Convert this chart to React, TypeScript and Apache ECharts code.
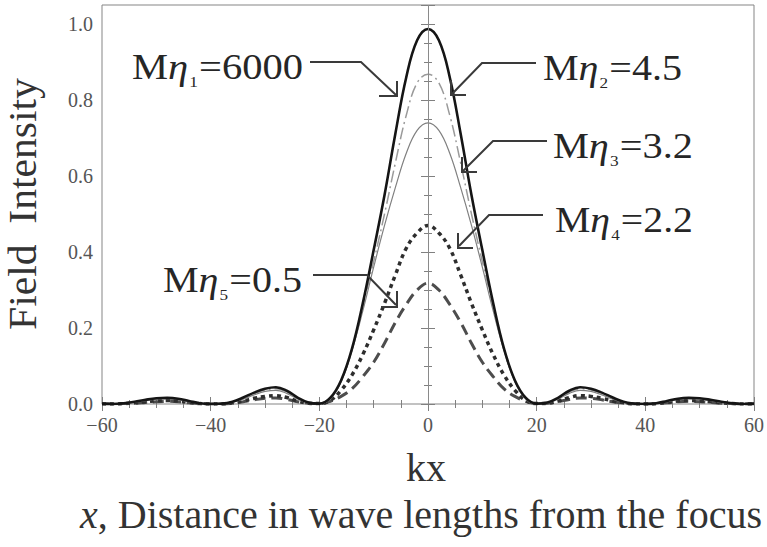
import React, { useEffect, useRef } from "react";
import * as echarts from "echarts";

// kx positions (wave numbers from the focus)
const KX = [
  -60, -58, -56, -54, -52, -50, -48, -46, -44, -42, -40, -38, -36, -34, -32, -30, -28, -26, -24, -22,
  -20, -18, -16, -14, -12, -10, -8, -6, -4, -2, 0, 2, 4, 6, 8, 10, 12, 14, 16, 18, 20,
  22, 24, 26, 28, 30, 32, 34, 36, 38, 40, 42, 44, 46, 48, 50, 52, 54, 56, 58, 60,
];

// Mη1 = 6000 (solid black)
const ETA1 = [
  0.001, 0, 0.002, 0.006, 0.011, 0.015, 0.016, 0.014, 0.008, 0.002, 0, 0.001, 0.006, 0.017, 0.03, 0.04, 0.044, 0.035, 0.017, 0.004,
  0.001, 0.016, 0.062, 0.145, 0.265, 0.405, 0.55, 0.712, 0.86, 0.957, 0.987, 0.957, 0.86, 0.712, 0.55, 0.405, 0.265, 0.145, 0.062, 0.016, 0.001,
  0.004, 0.017, 0.035, 0.044, 0.04, 0.03, 0.017, 0.006, 0.001, 0, 0.002, 0.008, 0.014, 0.016, 0.015, 0.011, 0.006, 0.002, 0, 0.001,
];
// Mη2 = 4.5 (dash-dot grey)
const ETA2 = [
  0.001, 0, 0.002, 0.005, 0.01, 0.014, 0.015, 0.013, 0.007, 0.002, 0, 0.001, 0.005, 0.015, 0.027, 0.037, 0.04, 0.031, 0.015, 0.004,
  0.001, 0.014, 0.06, 0.143, 0.255, 0.375, 0.5, 0.635, 0.76, 0.845, 0.868, 0.845, 0.76, 0.635, 0.5, 0.375, 0.255, 0.143, 0.06, 0.014, 0.001,
  0.004, 0.015, 0.031, 0.04, 0.037, 0.027, 0.015, 0.005, 0.001, 0, 0.002, 0.007, 0.013, 0.015, 0.014, 0.01, 0.005, 0.002, 0, 0.001,
];
// Mη3 = 3.2 (thin grey)
const ETA3 = [
  0.001, 0, 0.001, 0.005, 0.009, 0.013, 0.014, 0.012, 0.006, 0.002, 0, 0.001, 0.005, 0.013, 0.024, 0.033, 0.036, 0.028, 0.013, 0.003,
  0.001, 0.013, 0.058, 0.14, 0.245, 0.36, 0.47, 0.57, 0.66, 0.72, 0.74, 0.72, 0.66, 0.57, 0.47, 0.36, 0.245, 0.14, 0.058, 0.013, 0.001,
  0.003, 0.013, 0.028, 0.036, 0.033, 0.024, 0.013, 0.005, 0.001, 0, 0.002, 0.006, 0.012, 0.014, 0.013, 0.009, 0.005, 0.001, 0, 0.001,
];
// Mη4 = 2.2 (dotted)
const ETA4 = [
  0, 0, 0.001, 0.003, 0.006, 0.008, 0.009, 0.008, 0.004, 0.001, 0, 0, 0.003, 0.008, 0.015, 0.02, 0.022, 0.017, 0.008, 0.002,
  0.001, 0.009, 0.036, 0.076, 0.13, 0.195, 0.265, 0.34, 0.41, 0.45, 0.47, 0.45, 0.41, 0.34, 0.265, 0.195, 0.13, 0.076, 0.036, 0.009, 0.001,
  0.002, 0.008, 0.017, 0.022, 0.02, 0.015, 0.008, 0.003, 0, 0, 0.001, 0.004, 0.008, 0.009, 0.008, 0.006, 0.003, 0.001, 0, 0,
];
// Mη5 = 0.5 (dashed)
const ETA5 = [
  0, 0, 0.001, 0.002, 0.004, 0.006, 0.007, 0.006, 0.003, 0.001, 0, 0, 0.002, 0.006, 0.011, 0.015, 0.016, 0.012, 0.006, 0.002,
  0.001, 0.007, 0.02, 0.04, 0.072, 0.11, 0.16, 0.215, 0.262, 0.3, 0.318, 0.3, 0.262, 0.215, 0.16, 0.11, 0.072, 0.04, 0.02, 0.007, 0.001,
  0.002, 0.006, 0.012, 0.016, 0.015, 0.011, 0.006, 0.002, 0, 0, 0.001, 0.003, 0.006, 0.007, 0.006, 0.004, 0.002, 0.001, 0, 0,
];

const SUBSCRIPTS = ["1", "2", "3", "4", "5"];
const M_ETA_VALUES = ["6000", "4.5", "3.2", "2.2", "0.5"];

const SERIF = "Liberation Serif";
const INK = "#262626";

function pairs(ys: number[]) {
  return KX.map((x, i) => [x, ys[i]]);
}

let measureCtx: CanvasRenderingContext2D | null = null;
function textWidth(text: string, font: string) {
  if (!measureCtx) measureCtx = document.createElement("canvas").getContext("2d");
  measureCtx!.font = font;
  return measureCtx!.measureText(text).width;
}

function txt(text: string, x: number, y: number, fontSize: number, italic = false, fill = INK) {
  return {
    type: "text",
    x,
    y,
    z: 100,
    style: {
      text,
      fontFamily: SERIF,
      fontSize,
      fontStyle: italic ? "italic" : "normal",
      fill,
      align: "left",
      verticalAlign: "middle",
      textAlign: "left",
      textVerticalAlign: "middle",
    },
  };
}

// label "Mη_i=value": left edge, baseline, right edge of the label in pixels
function label(i: number, left: number, baseline: number, right: number) {
  const fs = 35;
  const sfs = 15;
  const wM = textWidth("M", `${fs}px ${SERIF}`);
  const wE = textWidth("η", `italic ${fs}px ${SERIF}`);
  const wS = textWidth(SUBSCRIPTS[i], `${sfs}px ${SERIF}`);
  const rest = "=" + M_ETA_VALUES[i];
  const wV = textWidth(rest, `${fs}px ${SERIF}`);
  const total = wM + wE + 1 + wS + 1 + wV;
  const sx = (right - left) / total;
  const cy = -0.34 * fs;
  return {
    type: "group",
    x: left,
    y: baseline,
    scaleX: sx,
    children: [
      txt("M", 0, cy, fs),
      txt("η", wM, cy, fs, true),
      txt(SUBSCRIPTS[i], wM + wE + 1, 3, sfs),
      txt(rest, wM + wE + 1 + wS + 1, cy, fs),
    ],
  };
}

function poly(points: number[][], width = 2) {
  return {
    type: "polyline",
    z: 100,
    shape: { points },
    style: { stroke: "#3a3a3a", lineWidth: width, fill: null },
  };
}

export default function App() {
  const ref = useRef<HTMLDivElement>(null);

  useEffect(() => {
    document.body.style.margin = "0";
    const chart = echarts.init(ref.current!, null, { renderer: "svg" });

    const tickStyle = { color: "#808080", width: 1 };
    const xFmt = (v: number) => (v < 0 ? "\u2212" + Math.abs(v) : String(v));
    const yFmt = (v: number) => {
      const r = Math.round(v * 10) / 10;
      if (Math.abs(v - r) > 1e-6 || Math.round(r * 10) % 2 !== 0) return "";
      return r.toFixed(1);
    };

    const yTitle = "Field  Intensity";
    const yTitleScale = 252 / textWidth(yTitle, `40px ${SERIF}`);

    const bottomA = "x";
    const bottomB = ", Distance in wave lengths from the focus";
    const wa = textWidth(bottomA, `italic 40px ${SERIF}`);
    const wb = textWidth(bottomB, `40px ${SERIF}`);
    const bottomLeft = 421 - (wa + wb) / 2;

    const option: any = {
      animation: false,
      backgroundColor: "#ffffff",
      textStyle: { fontFamily: SERIF },
      grid: {
        left: 102,
        right: 13,
        top: 5,
        bottom: 143,
        show: true,
        borderColor: "#858585",
        borderWidth: 1,
      },
      xAxis: [
        {
          type: "value",
          position: "bottom",
          min: -60,
          max: 60,
          interval: 20,
          axisLine: { show: false },
          axisTick: { show: true, inside: true, length: 7, lineStyle: tickStyle },
          minorTick: { show: true, splitNumber: 4, length: 4, lineStyle: tickStyle },
          splitLine: { show: false },
          axisLabel: {
            formatter: xFmt,
            fontFamily: SERIF,
            fontSize: 20,
            color: "#555",
            margin: 11,
          },
        },
        {
          type: "value",
          position: "top",
          min: -60,
          max: 60,
          interval: 20,
          axisLine: { show: false },
          axisTick: { show: true, inside: true, length: 7, lineStyle: tickStyle },
          minorTick: { show: true, splitNumber: 4, length: 4, lineStyle: tickStyle },
          splitLine: { show: false },
          axisLabel: { show: false },
        },
      ],
      yAxis: [
        {
          type: "value",
          position: "left",
          min: 0,
          max: 1.05,
          interval: 0.2,
          axisLine: { show: false },
          axisTick: { show: true, inside: true, length: 7, lineStyle: tickStyle },
          minorTick: { show: true, splitNumber: 4, length: 4, lineStyle: tickStyle },
          splitLine: { show: false },
          axisLabel: {
            formatter: yFmt,
            fontFamily: SERIF,
            fontSize: 20,
            color: "#555",
            margin: 9,
            showMaxLabel: false,
          },
        },
        {
          type: "value",
          position: "right",
          min: 0,
          max: 1.05,
          interval: 0.2,
          axisLine: { show: false },
          axisTick: { show: true, inside: true, length: 7, lineStyle: tickStyle },
          minorTick: { show: true, splitNumber: 4, length: 4, lineStyle: tickStyle },
          splitLine: { show: false },
          axisLabel: { show: false },
        },
      ],
      series: [
        {
          name: "Mη5=0.5",
          type: "line",
          data: pairs(ETA5),
          smooth: 0.4,
          showSymbol: false,
          symbol: "none",
          clip: true,
          lineStyle: { color: "#4d4d4d", width: 3, type: [11, 6] },
          markLine: {
            silent: true,
            symbol: ["none", "none"],
            label: { show: false },
            lineStyle: { color: "#8a8a8a", width: 1, type: "solid" },
            data: [{ xAxis: 0 }],
          },
        },
        {
          name: "Mη4=2.2",
          type: "line",
          data: pairs(ETA4),
          smooth: 0.4,
          showSymbol: false,
          symbol: "none",
          clip: true,
          lineStyle: { color: "#2e2e2e", width: 3.5, type: [4, 4] },
        },
        {
          name: "Mη3=3.2",
          type: "line",
          data: pairs(ETA3),
          smooth: 0.4,
          showSymbol: false,
          symbol: "none",
          clip: true,
          lineStyle: { color: "#808080", width: 1.2, type: "solid" },
        },
        {
          name: "Mη2=4.5",
          type: "line",
          data: pairs(ETA2),
          smooth: 0.4,
          showSymbol: false,
          symbol: "none",
          clip: true,
          lineStyle: { color: "#9a9a9a", width: 1.5, type: [12, 4, 2, 4] },
        },
        {
          name: "Mη1=6000",
          type: "line",
          data: pairs(ETA1),
          smooth: 0.4,
          showSymbol: false,
          symbol: "none",
          clip: true,
          lineStyle: { color: "#151515", width: 2.6, type: "solid" },
        },
      ],
      graphic: [
        // axis titles
        {
          type: "text",
          x: 23,
          y: 204,
          rotation: Math.PI / 2,
          scaleX: yTitleScale,
          style: {
            text: yTitle,
            fontFamily: SERIF,
            fontSize: 40,
            fill: "#333",
            align: "center",
            verticalAlign: "middle",
            textAlign: "center",
            textVerticalAlign: "middle",
          },
        },
        {
          type: "text",
          x: 426,
          y: 467,
          style: {
            text: "kx",
            fontFamily: SERIF,
            fontSize: 40,
            fill: "#333",
            align: "center",
            verticalAlign: "middle",
            textAlign: "center",
            textVerticalAlign: "middle",
          },
        },
        txt(bottomA, bottomLeft, 514, 40, true, "#333"),
        txt(bottomB, bottomLeft + wa, 514, 40, false, "#333"),
        // annotation labels
        label(0, 132, 79, 303),
        label(1, 543, 80, 682),
        label(2, 553, 158, 693),
        label(3, 555, 232, 693),
        label(4, 163, 292, 302),
        // leader lines and open arrow heads
        poly([[310, 62], [361, 62], [396, 95]]),
        poly([[379, 96], [397, 96], [397, 81]]),
        poly([[536, 63], [482, 63], [452, 94]]),
        poly([[466, 95], [451, 95], [451, 80]]),
        poly([[547, 141], [493, 141], [463, 171]]),
        poly([[477, 172], [462, 172], [462, 157]]),
        poly([[543, 215], [489, 215], [459, 246]]),
        poly([[473, 248], [458, 248], [458, 233]]),
        poly([[313, 275], [367, 275], [396, 305]]),
        poly([[381, 307], [397, 307], [397, 291]]),
      ],
    };

    chart.setOption(option);
    return () => chart.dispose();
  }, []);

  return <div ref={ref} style={{ width: 767, height: 547, background: "#fff" }} />;
}
